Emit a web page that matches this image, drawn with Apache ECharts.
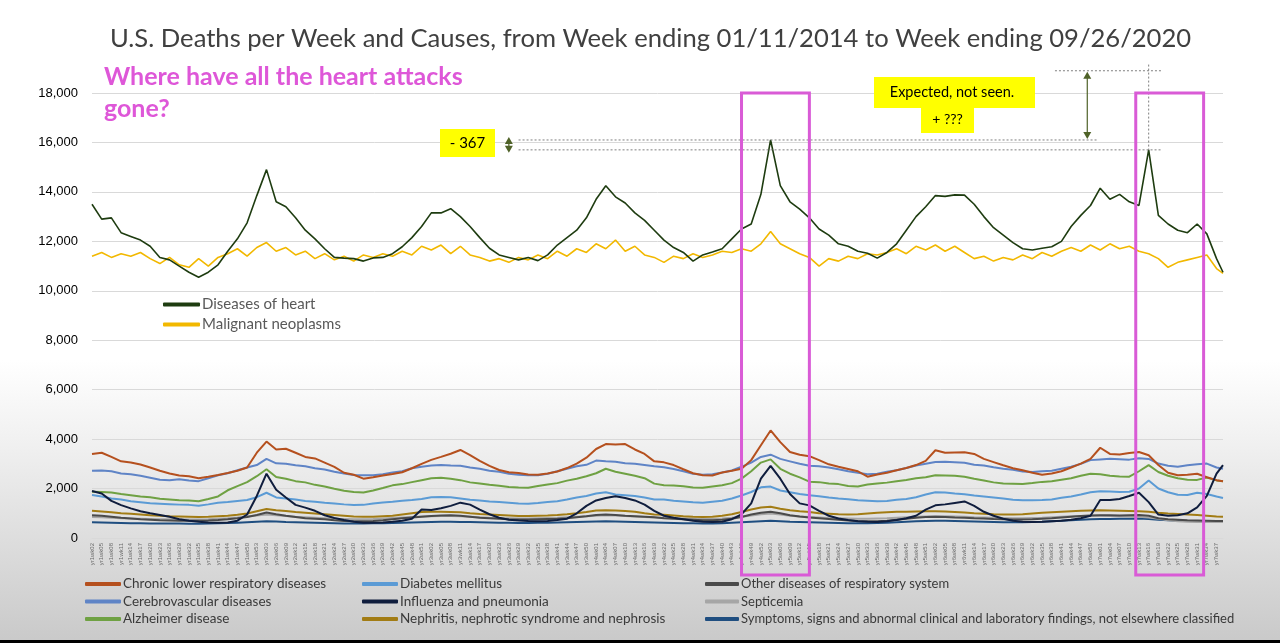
<!DOCTYPE html>
<html><head><meta charset="utf-8">
<script src="https://cdn.jsdelivr.net/npm/echarts@6/dist/echarts.min.js"></script>
<style>
html,body{margin:0;padding:0;}
body{width:1280px;height:643px;overflow:hidden;background:linear-gradient(to bottom,#ffffff 0%,#ffffff 56%,#efefef 70%,#dcdcdc 85%,#c9c9c9 100%);}
#chart{width:1280px;height:643px;}
</style></head><body><div id="chart"></div>
<script>
// ---- categories: MMWR weeks, [yearNo, firstWeek, lastWeek]
const yearWeekRanges = [[1,2,53],[2,1,52],[3,1,52],[4,1,52],[5,1,52],[6,1,52],[7,1,39]];
const weekLabels = [];
yearWeekRanges.forEach(([y,a,b]) => { for (let w=a; w<=b; w++) weekLabels.push('yr'+y+'wk'+(w<10?'0':'')+w); });
// values read every 3rd week (plus last week)
const sampleWeeks = [];
for (let k=0; k<weekLabels.length-1; k+=3) sampleWeeks.push(k);
sampleWeeks.push(weekLabels.length-1);

const heart = [13500,12900,12950,12350,12200,12050,11800,11350,11250,11000,
 10750,10550,10750,11050,11600,12100,12750,13850,14900,13600,
 13400,12950,12450,12100,11700,11350,11320,11300,11200,11330,
 11350,11500,11780,12150,12600,13150,13150,13320,13000,12600,
 12150,11720,11450,11350,11250,11350,11220,11450,11850,12150,
 12450,12950,13700,14250,13800,13550,13150,12850,12450,12050,
 11750,11550,11200,11450,11570,11700,12100,12500,12700,13900,
 16100,14250,13600,13300,12950,12500,12250,11900,11800,11600,
 11520,11320,11550,11900,12450,13000,13400,13850,13820,13880,
 13870,13500,13000,12550,12250,11950,11700,11650,11720,11780,
 12000,12600,13050,13450,14150,13700,13900,13600,13450,15700,
 13050,12700,12450,12350,12700,12300,11300,10750];
const cancer = [11400,11550,11350,11500,11400,11550,11300,11100,11350,11050,
 10950,11300,11000,11350,11500,11700,11400,11750,11950,11600,
 11750,11450,11600,11300,11500,11250,11400,11200,11450,11350,
 11500,11400,11600,11450,11800,11650,11850,11500,11800,11450,
 11350,11200,11300,11150,11350,11250,11450,11300,11600,11400,
 11700,11550,11900,11700,12050,11600,11800,11450,11350,11150,
 11400,11300,11500,11350,11450,11600,11550,11700,11600,11900,
 12400,11900,11700,11500,11350,11000,11300,11200,11400,11300,
 11500,11450,11550,11700,11500,11800,11650,11850,11600,11800,
 11550,11300,11400,11200,11350,11250,11450,11300,11550,11400,
 11600,11750,11600,11850,11650,11900,11700,11800,11600,11500,
 11300,10950,11150,11250,11350,11450,10900,10700];
const clrd = [3400,3450,3280,3100,3050,2970,2850,2720,2610,2530,
 2500,2420,2480,2550,2630,2720,2850,3450,3900,3580,
 3610,3450,3280,3220,3050,2880,2640,2560,2400,2460,
 2530,2590,2660,2820,3000,3160,3280,3410,3560,3350,
 3120,2920,2750,2660,2630,2570,2560,2610,2690,2830,
 3010,3250,3600,3800,3780,3800,3580,3400,3100,3060,
 2950,2780,2620,2540,2530,2650,2720,2800,3150,3750,
 4350,3880,3480,3370,3310,3150,2980,2880,2790,2700,
 2480,2570,2640,2740,2830,2950,3120,3550,3450,3460,
 3470,3400,3200,3070,2940,2820,2740,2640,2560,2610,
 2700,2850,3010,3200,3650,3400,3380,3440,3480,3350,
 2950,2640,2540,2560,2600,2460,2340,2300];
const cerebro = [2720,2730,2700,2610,2580,2520,2440,2360,2340,2380,
 2330,2300,2420,2540,2620,2740,2850,2950,3200,3020,
 3000,2940,2900,2820,2770,2680,2610,2550,2540,2540,
 2580,2650,2700,2820,2880,2930,2950,2930,2920,2850,
 2800,2720,2680,2600,2560,2540,2540,2600,2700,2800,
 2900,2960,3130,3100,3080,3020,3000,2950,2900,2860,
 2790,2700,2600,2560,2580,2650,2730,2880,3050,3280,
 3370,3200,3100,3000,2920,2900,2850,2780,2700,2640,
 2580,2600,2680,2740,2830,2930,3000,3070,3080,3060,
 3040,2960,2930,2860,2800,2760,2690,2670,2700,2720,
 2800,2880,3000,3150,3180,3210,3190,3170,3230,3200,
 3010,2920,2880,2940,2980,3010,2850,2800];
const alzheimer = [1870,1860,1840,1780,1730,1680,1650,1590,1560,1530,
 1520,1490,1580,1680,1930,2100,2260,2500,2780,2470,
 2400,2300,2250,2150,2080,1990,1910,1860,1840,1920,
 2020,2130,2180,2260,2340,2420,2440,2400,2340,2250,
 2200,2150,2110,2060,2040,2030,2100,2160,2220,2320,
 2400,2500,2620,2800,2680,2600,2520,2420,2200,2130,
 2120,2090,2040,2030,2080,2130,2220,2400,2700,3050,
 3180,2800,2600,2450,2280,2260,2200,2180,2100,2080,
 2160,2200,2240,2300,2350,2420,2460,2540,2530,2520,
 2480,2400,2330,2250,2200,2190,2180,2220,2270,2300,
 2360,2420,2520,2600,2580,2520,2490,2480,2700,2950,
 2670,2520,2420,2360,2350,2450,2330,2300];
const diabetes = [1740,1680,1600,1560,1490,1450,1410,1390,1370,1350,
 1340,1300,1360,1430,1460,1500,1540,1650,1830,1640,
 1600,1560,1500,1470,1430,1400,1360,1330,1340,1400,
 1440,1470,1510,1540,1580,1650,1660,1650,1600,1550,
 1520,1480,1460,1430,1400,1390,1420,1460,1490,1560,
 1640,1700,1800,1850,1760,1730,1700,1640,1560,1560,
 1510,1480,1450,1430,1470,1510,1600,1720,1860,2050,
 2080,1920,1850,1780,1730,1690,1640,1600,1570,1530,
 1510,1490,1500,1550,1580,1650,1760,1850,1840,1800,
 1770,1720,1680,1640,1600,1550,1530,1530,1540,1560,
 1630,1680,1760,1850,1890,1880,1860,1870,2000,2330,
 2000,1850,1750,1740,1830,1780,1680,1620];
const influenza = [1900,1800,1500,1330,1200,1080,1000,930,860,760,
 700,660,630,620,630,700,950,1700,2600,1950,
 1640,1340,1230,1100,920,810,730,660,620,620,
 630,660,700,780,1150,1130,1200,1300,1430,1350,
 1150,960,820,740,710,690,680,690,730,780,
 1000,1300,1520,1620,1690,1620,1520,1350,1100,900,
 820,760,700,660,650,660,760,960,1400,2400,
 2920,2400,1780,1400,1320,1100,900,790,730,680,
 660,650,680,730,800,900,1150,1320,1360,1420,
 1480,1300,1060,900,780,700,660,650,660,680,
 700,740,800,900,1540,1540,1580,1700,1830,1450,
 950,900,920,1000,1240,1700,2600,2950];
const nephritis = [1100,1070,1040,1000,980,950,920,900,880,870,
 860,850,860,880,900,940,990,1080,1170,1120,
 1090,1050,1020,990,960,930,900,870,860,860,
 880,900,950,1000,1050,1060,1060,1050,1040,1000,
 970,950,930,910,890,890,900,910,930,960,
 1000,1050,1110,1120,1110,1090,1060,1000,950,940,
 910,880,860,850,860,900,960,1050,1150,1230,
 1260,1180,1120,1080,1050,1000,980,960,950,960,
 990,1020,1040,1060,1060,1070,1080,1080,1070,1050,
 1030,1000,980,960,950,950,960,990,1020,1040,
 1060,1080,1100,1110,1120,1110,1100,1090,1080,1060,
 1020,990,970,950,930,900,870,860];
const otherResp = [920,900,860,820,790,760,740,720,710,700,
 700,700,710,730,760,800,850,930,1030,960,
 900,850,800,780,760,720,690,680,675,690,
 720,760,800,830,860,890,910,920,900,860,
 820,800,780,760,750,750,760,770,780,800,
 840,880,930,950,930,900,880,860,840,800,
 780,760,740,720,720,740,780,850,950,1020,
 1060,1000,920,870,830,800,770,740,710,690,
 680,680,700,740,780,820,850,860,850,830,
 820,800,790,770,760,750,750,760,780,800,
 830,860,890,910,920,920,910,920,930,900,
 800,760,740,720,710,700,690,690];
const septicemia = [850,840,820,800,790,780,770,760,760,755,
 750,750,760,780,800,830,870,910,950,920,
 890,860,840,820,800,780,770,760,760,770,
 790,810,830,850,870,880,890,890,880,860,
 840,820,810,800,790,790,800,810,820,840,
 860,880,900,920,910,890,870,850,830,820,
 800,790,780,770,770,790,820,860,910,960,
 990,950,900,870,850,830,810,800,790,780,
 780,790,800,820,840,860,870,880,880,870,
 860,840,830,820,810,800,800,810,820,840,
 860,880,890,900,900,890,880,870,860,830,
 780,720,680,660,650,650,650,650];
const symptoms = [640,630,620,610,600,600,590,590,585,585,
 580,580,590,600,610,620,640,660,680,670,
 650,640,630,620,610,600,590,590,590,595,
 600,610,620,630,640,650,660,660,650,645,
 640,630,620,615,610,610,615,620,630,640,
 650,660,670,680,670,660,650,640,630,620,
 610,600,600,590,590,600,620,640,660,680,
 700,680,660,650,640,630,620,610,600,600,
 600,610,620,640,660,680,690,700,700,690,
 680,670,660,650,640,640,640,650,660,680,
 700,720,740,760,770,770,780,780,790,770,
 740,720,700,690,690,680,680,680];

const yTicks = [0,2000,4000,6000,8000,10000,12000,14000,16000,18000];
const highlightWeeks = [[201,222],[323,344]];   // magenta boxes (week index spans)
const expectedLevel = 18900;

const chart = echarts.init(document.getElementById('chart'), null, {renderer:'canvas'});
const F = 'Lato, "Open Sans", sans-serif';
function mk(name, arr, color, width, z){
  return {name, type:'line', data: arr.map((v,i)=>[sampleWeeks[i], v]), showSymbol:false, symbol:'none',
    lineStyle:{color, width}, itemStyle:{color}, z, animation:false, emphasis:{disabled:true}};
}
const series = [
  mk('Symptoms, signs and abnormal clinical and laboratory findings, not elsewhere classified', symptoms, '#1f4e80', 2, 2),
  mk('Septicemia', septicemia, '#a6a6a6', 2, 2),
  mk('Other diseases of respiratory system', otherResp, '#4a4a4a', 2, 2),
  mk('Nephritis, nephrotic syndrome and nephrosis', nephritis, '#a27c14', 2, 2),
  mk('Influenza and pneumonia', influenza, '#0f1d3d', 2, 3),
  mk('Diabetes mellitus', diabetes, '#5b9bd5', 2, 2),
  mk('Alzheimer disease', alzheimer, '#6fa143', 2, 2),
  mk('Cerebrovascular diseases', cerebro, '#5f84c6', 2, 2),
  mk('Chronic lower respiratory diseases', clrd, '#b5501e', 2, 2),
  mk('Malignant neoplasms', cancer, '#f2b800', 1.6, 3),
  mk('Diseases of heart', heart, '#1e3c10', 1.6, 4)
];
function lg(left, top, names, w, color, size, lh, gap){
  return {orient:'vertical', left, top, data:names, icon:'roundRect', itemWidth:w, itemHeight:4, itemGap:gap,
    selectedMode:false, padding:0, textStyle:{color, fontSize:size, fontFamily:F, lineHeight:lh, padding:[0,0,0,-3]}};
}
const option = {
  animation:false,
  backgroundColor:'transparent',
  title:{text:'U.S. Deaths per Week and Causes, from Week ending 01/11/2014 to Week ending 09/26/2020',
    left:105, top:21, textStyle:{fontFamily:F, fontSize:25.6, fontWeight:'normal', color:'#404040'}},
  grid:{left:92, right:57, top:93, bottom:105, containLabel:false},
  xAxis:{type:'category', data:weekLabels, boundaryGap:false,
    axisLine:{show:true, lineStyle:{color:'#d9d9d9'}}, axisTick:{show:false},
    axisLabel:{interval:2, rotate:90, fontSize:6, color:'#6a6a6a', margin:5, fontFamily:'Liberation Sans, Arial'},
    splitLine:{show:false}},
  yAxis:{type:'value', min:yTicks[0], max:yTicks[yTicks.length-1], interval:2000,
    axisLine:{show:false}, axisTick:{show:false},
    axisLabel:{fontSize:13, color:'#000', margin:14, fontFamily:'Liberation Sans, Arial', formatter:v=>v.toLocaleString('en-US')},
    splitLine:{lineStyle:{color:'#d9d9d9', width:1}}},
  legend:[
    lg(163, 297, ['Diseases of heart','Malignant neoplasms'], 37, '#595959', 15, 15, 5),
    lg(85, 577, ['Chronic lower respiratory diseases','Cerebrovascular diseases','Alzheimer disease'], 36, '#3a3a3a', 13.5, 14, 3.5),
    lg(362, 577, ['Diabetes mellitus','Influenza and pneumonia','Nephritis, nephrotic syndrome and nephrosis'], 36, '#3a3a3a', 13.5, 14, 3.5),
    lg(705, 577, ['Other diseases of respiratory system','Septicemia','Symptoms, signs and abnormal clinical and laboratory findings, not elsewhere classified'], 34, '#3a3a3a', 13, 14, 3.5)
  ],
  series
};
chart.setOption(option);

function px(k, v){ return chart.convertToPixel({xAxisIndex:0, yAxisIndex:0}, [k, v]); }
const G = [];
const dotted = {stroke:'#7f7f7f', lineWidth:1, lineDash:[2,2]};
const arrowCol = '#4f6228';
function hline(k1, k2, v){ const a=px(k1,v), b=px(k2,v); G.push({type:'line', shape:{x1:a[0],y1:a[1],x2:b[0],y2:b[1]}, style:dotted, z:50}); }
function dblArrow(x, y1, y2){
  G.push({type:'line', shape:{x1:x,y1:y1+4,x2:x,y2:y2-4}, style:{stroke:arrowCol, lineWidth:1.2}, z:51});
  G.push({type:'polygon', shape:{points:[[x,y1],[x-4,y1+7],[x+4,y1+7]]}, style:{fill:arrowCol}, z:51});
  G.push({type:'polygon', shape:{points:[[x,y2],[x-4,y2-7],[x+4,y2-7]]}, style:{fill:arrowCol}, z:51});
}
// magenta boxes
highlightWeeks.forEach(([a,b]) => {
  const p1 = px(a, yTicks[yTicks.length-1]), p2 = px(b, 0);
  G.push({type:'rect', shape:{x:p1[0], y:p1[1], width:p2[0]-p1[0], height:p2[1]+37-p1[1]},
    style:{fill:'none', stroke:'#d95bd6', lineWidth:3}, z:60});
});
const peak18 = heart[70], peak20 = heart[109];
hline(132, 311, peak18);
hline(132, 331, peak20);
hline(298, 331, expectedLevel);
{ const a = px(sampleWeeks[109], expectedLevel+250), b = px(sampleWeeks[109], peak20);
  G.push({type:'line', shape:{x1:a[0],y1:a[1],x2:a[0],y2:b[1]}, style:dotted, z:50}); }
{ const x = px(308,0)[0]; dblArrow(x, px(0,expectedLevel)[1]+1, px(0,peak18)[1]-1); }
{ const x = px(129,0)[0]; dblArrow(x, px(0,peak18)[1]-3, px(0,peak20)[1]+3); }
// yellow callouts
G.push({type:'rect', shape:{x:440, y:129, width:55, height:28}, style:{fill:'#ffff00'}, z:55});
G.push({type:'text', x:467.5, y:143, style:{text:'- 367', font:'15px '+F, fill:'#000', align:'center', verticalAlign:'middle'}, z:56});
G.push({type:'rect', shape:{x:874, y:77, width:161, height:31}, style:{fill:'#ffff00'}, z:55});
G.push({type:'rect', shape:{x:921, y:106, width:53, height:27}, style:{fill:'#ffff00'}, z:55});
G.push({type:'text', x:952, y:92.5, style:{text:'Expected, not seen.', font:'14.5px '+F, fill:'#000', align:'center', verticalAlign:'middle'}, z:56});
G.push({type:'text', x:947.5, y:119, style:{text:'+ ???', font:'14px '+F, fill:'#000', align:'center', verticalAlign:'middle'}, z:56});
// magenta question
G.push({type:'text', x:104, y:77, style:{text:'Where have all the heart attacks', font:'bold 25px '+F, fill:'#de57d8', verticalAlign:'middle'}, z:56});
G.push({type:'text', x:104, y:109, style:{text:'gone?', font:'bold 25px '+F, fill:'#de57d8', verticalAlign:'middle'}, z:56});
// bottom frame line
G.push({type:'rect', shape:{x:0, y:640, width:1280, height:3}, style:{fill:'#000'}, z:56});
chart.setOption({graphic:{elements:G}});
</script></body></html>
